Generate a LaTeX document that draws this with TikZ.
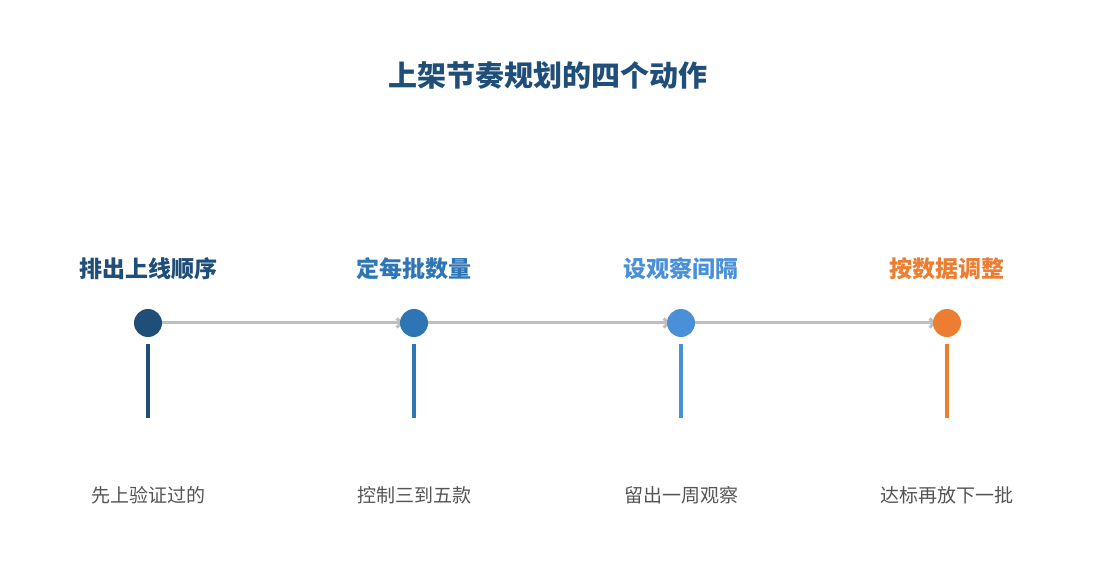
\documentclass[tikz,border=0pt]{standalone}
\usepackage{fontspec}
\setmainfont{Noto Sans CJK SC}
\usetikzlibrary{arrows.meta,backgrounds}
\definecolor{cA}{HTML}{1F4E79}
\definecolor{cB}{HTML}{2E75B6}
\definecolor{cC}{HTML}{4A90D9}
\definecolor{cD}{HTML}{ED7D31}
\definecolor{cLine}{HTML}{BFBFBF}
\definecolor{cText}{HTML}{555555}
\begin{document}
\begin{tikzpicture}[x=1pt,y=-1pt,
  dot/.style={circle,inner sep=0pt,minimum size=28pt},
  head/.style={font=\fontsize{23}{27}\selectfont\bfseries,inner sep=0pt},
  desc/.style={font=\fontsize{19}{23}\selectfont,text=cText,inner sep=0pt},
  link/.style={draw=cLine,line width=3pt,shorten >=-4pt,-{Straight Barb[length=5pt,width=9pt]}},
  bar/.style={line width=4pt}]
\useasboundingbox (0,0) rectangle (1095,585);
\node[font=\fontsize{29}{34}\selectfont\bfseries,text=cA,inner sep=0pt] (title) at (547.5,75) {上架节奏规划的四个动作};
\foreach \i/\x/\c/\h/\d in {1/148/cA/排出上线顺序/先上验证过的,2/414/cB/定每批数量/控制三到五款,3/681/cC/设观察间隔/留出一周观察,4/947/cD/按数据调整/达标再放下一批}{
  \node[head,text=\c] (h\i) at (\x,269) {\h};
  \node[dot,fill=\c] (n\i) at (\x,323) {};
  \coordinate (bt\i) at (\x,344);
  \coordinate (bb\i) at (\x,418);
  \draw[bar,draw=\c] (bt\i) -- (bb\i);
  \node[desc] (d\i) at (\x,495) {\d};
}
\begin{scope}[on background layer]
  \fill[white] (0,0) rectangle (1095,585);
  \draw[link] (n1) -- (n2);
  \draw[link] (n2) -- (n3);
  \draw[link] (n3) -- (n4);
\end{scope}
\end{tikzpicture}
\end{document}
